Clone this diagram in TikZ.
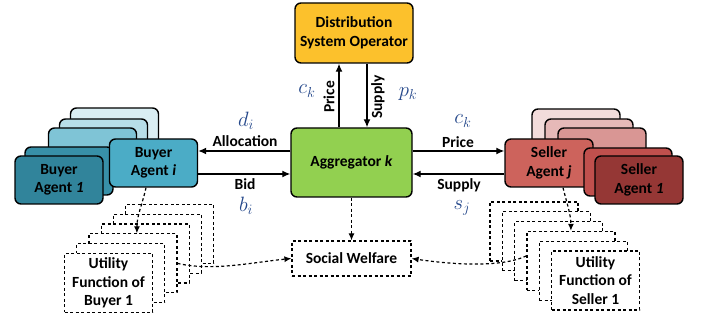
\documentclass[tikz,border=0pt]{standalone}
\usepackage{fontspec}
\setmainfont{Carlito}
\usepackage{xcolor}
\usetikzlibrary{positioning,calc,arrows.meta}

\definecolor{dsoyellow}{HTML}{FCC12C}
\definecolor{agggreen}{HTML}{92D050}
\definecolor{symblue}{HTML}{24478A}
\definecolor{buyA}{HTML}{DAEEF3}
\definecolor{buyB}{HTML}{B7DEE8}
\definecolor{buyC}{HTML}{7FC4D6}
\definecolor{buyI}{HTML}{4BACC6}
\definecolor{buyD}{HTML}{3890A8}
\definecolor{buyOne}{HTML}{31849B}
\definecolor{selA}{HTML}{F2DCDB}
\definecolor{selB}{HTML}{E6B9B8}
\definecolor{selC}{HTML}{D99694}
\definecolor{selJ}{HTML}{CD635C}
\definecolor{selD}{HTML}{C0504D}
\definecolor{selOne}{HTML}{953735}

\newcommand{\boxfont}{\fontsize{15.5}{18.5}\selectfont\bfseries}
\newcommand{\symfont}{\fontsize{20}{20}\selectfont}

\begin{document}
\begin{tikzpicture}[x=1pt,y=-1pt, line join=round]
	\useasboundingbox (0,0) rectangle (704,320);
	
	% ===== styles =====
	\tikzset{
		agent/.style={draw=black, line width=1.4pt, rounded corners=6pt, minimum width=88pt, minimum height=48pt, inner sep=0pt, align=center, font=\boxfont},
		util/.style={draw=black, dash pattern=on 3pt off 2.5pt, line width=1.2pt, fill=white, minimum width=88pt, minimum height=59pt, inner sep=0pt, align=center, font=\boxfont},
		lbl/.style={font=\boxfont, inner sep=0pt},
		sym/.style={text=symblue, font=\symfont, inner sep=0pt},
		arr/.style={-{Latex[length=8pt,width=7pt]}, line width=1.3pt},
		darr/.style={-{Latex[length=7pt,width=6pt]}, dash pattern=on 3pt off 2.5pt, line width=1.2pt}
	}
	
	% ===== operator and aggregator =====
	\node[agent, fill=dsoyellow, minimum width=118pt, minimum height=60pt] (dso) at (354,33) {Distribution\\System Operator};
	\node[agent, fill=agggreen, minimum width=121pt, minimum height=69pt] (agg) at (351.5,162.5) {Aggregator \textit{k}};
	
	% ===== buyer agents =====
	\foreach \n/\x/\y/\c in {bA/114.5/132/buyA, bB/103.5/143/buyB, bC/92.5/152/buyC, bD/69/171/buyD}{
		\node[agent, fill=\c] (\n) at (\x,\y) {};
	}
	\node[agent, fill=buyOne] (b1) at (59,180) {Buyer\\Agent \textit{1}};
	\node[agent, fill=buyI] (bi) at (153.5,163) {Buyer\\Agent \textit{i}};
	
	% ===== seller agents =====
	\foreach \n/\x/\y/\c in {sA/576/133/selA, sB/589/143/selB, sC/602/152/selC}{
		\node[agent, fill=\c] (\n) at (\x,\y) {};
	}
	\node[agent, fill=selJ] (sj) at (549,163) {Seller\\Agent \textit{j}};
	\node[agent, fill=selD] (sD) at (628,172) {};
	\node[agent, fill=selOne] (s1) at (639,180) {Seller\\Agent \textit{1}};
	
	% ===== utility functions =====
	\foreach \k in {5,4,...,1}{
		\node[util] (ub\k) at ({108.5+12.2*\k},{283-9.8*\k}) {};
		\node[util] (us\k) at ({595.5-12.3*\k},{280.5-9.8*\k}) {};
	}
	\node[util] (ub0) at (108.5,283) {Utility\\Function of\\Buyer 1};
	\node[util] (us0) at (595.5,280.5) {Utility\\Function of\\Seller 1};
	\node[util, minimum width=119pt, minimum height=35pt] (sw) at (351.5,258.5) {Social Welfare};
	
	% ===== price / supply with operator =====
	\draw[arr] ([xshift=-12.5pt]agg.north) -- ([xshift=-12.5pt]agg.north |- dso.south);
	\draw[arr] ([xshift=15.5pt]agg.north |- dso.south) -- ([xshift=15.5pt]agg.north);
	\node[lbl, rotate=90] (pup) at (329,97) {Price};
	\node[lbl, rotate=90] (sdown) at (378,97) {Supply};
	\node[sym] (ckup) at (307,91) {$c_k$};
	\node[sym] (pk) at (408,94) {$p_k$};
	
	% ===== buyer side =====
	\draw[arr] ([yshift=11.5pt]agg.west) -- ([yshift=11.5pt]agg.west -| bi.east);
	\draw[arr] ([yshift=-11.5pt]agg.west -| bi.east) -- ([yshift=-11.5pt]agg.west);
	\node[sym] (di) at (246,121) {$d_i$};
	\node[lbl] (alloc) at (245,141) {Allocation};
	\node[lbl] (bid) at (245,184) {Bid};
	\node[sym] (bi_) at (246,206) {$b_i$};
	
	% ===== seller side =====
	\draw[arr] ([yshift=11.5pt]agg.east) -- ([yshift=11.5pt]agg.east -| sj.west);
	\draw[arr] ([yshift=-11.5pt]agg.east -| sj.west) -- ([yshift=-11.5pt]agg.east);
	\node[sym] (ck) at (463,121) {$c_k$};
	\node[lbl] (price) at (458,142) {Price};
	\node[lbl] (supply) at (459,185) {Supply};
	\node[sym] (sj_) at (462,208) {$s_j$};
	
	% ===== welfare links =====
	\draw[darr] (agg.south) -- (sw.north);
	\draw[darr] ([xshift=-7.5pt]bi.south) .. controls +(-4,18) and +(0,-18) .. ([xshift=4pt]ub2.north);
	\draw[darr] ([xshift=14pt]sj.south) .. controls +(4,16) and +(0,-16) .. (us2.north);
	\draw[darr] (ub2.east) .. controls +(35,8) and +(-40,4) .. (sw.west);
	\draw[darr] ([yshift=5pt]us2.west) .. controls +(-25,12) and +(40,6) .. (sw.east);
\end{tikzpicture}
\end{document}
